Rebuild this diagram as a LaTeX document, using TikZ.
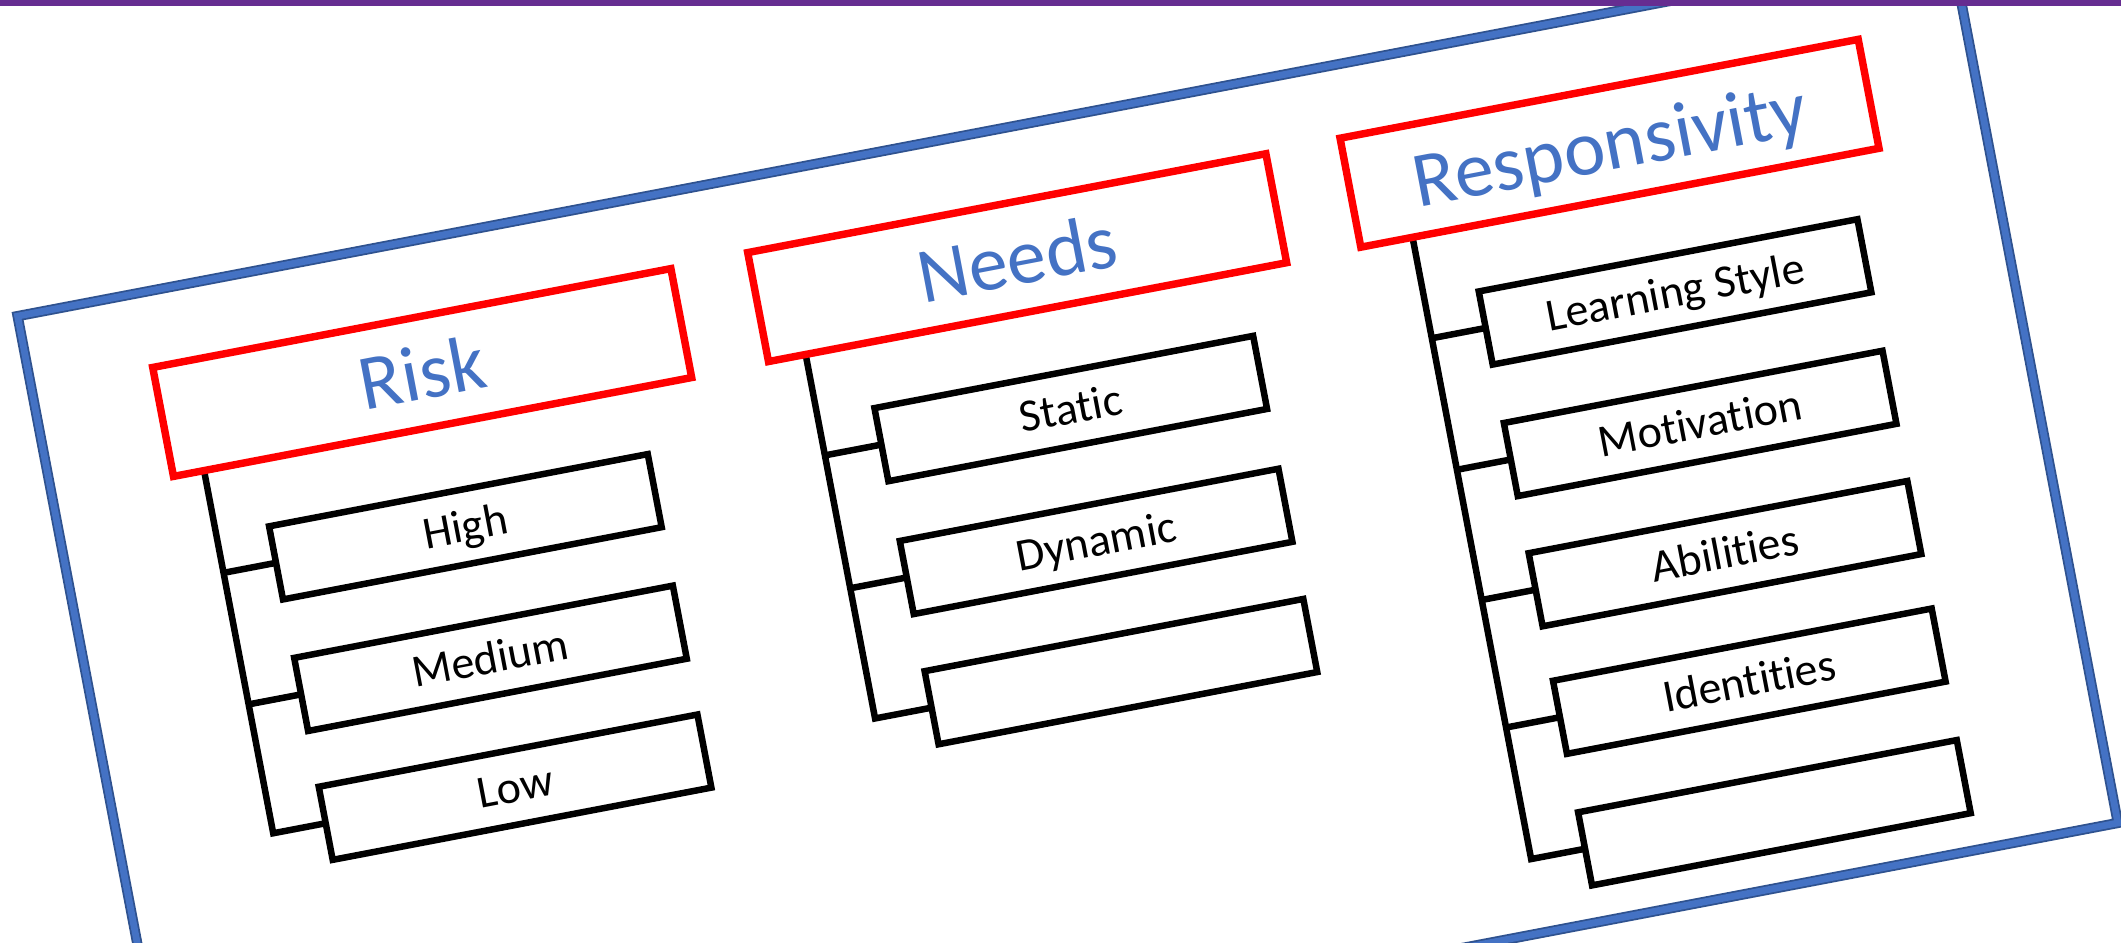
\documentclass[tikz,border=0pt]{standalone}
\usepackage{fontspec}
\setmainfont{Carlito}[Ligatures={NoCommon,NoContextual}]
\definecolor{hblue}{RGB}{68,114,196}
\definecolor{fdark}{RGB}{47,82,143}
\definecolor{topbar}{RGB}{102,45,145}
\begin{document}
\begin{tikzpicture}[x=1pt,y=-1pt,
  hdr/.style={draw=red, line width=5.5pt, fill=white, minimum width=390pt, minimum height=82pt,
    inner sep=0pt, outer sep=0pt, text=hblue, font=\fontsize{58}{60}\selectfont,
    text height=44pt, text depth=4pt},
  item/.style={draw=black, line width=4.8pt, fill=white, minimum width=285pt, minimum height=55pt,
    inner sep=0pt, outer sep=0pt, font=\fontsize{34}{40}\selectfont,
    text height=24pt, text depth=2pt},
  link/.style={draw=black, line width=4.8pt, line join=miter},
  frameouter/.style={draw=fdark, line width=7.6pt},
  frameinner/.style={draw=hblue, line width=5pt}]
\useasboundingbox (0,0) rectangle (1568,696.4);
\clip (0,0) rectangle (1568,696.4);
\fill[white] (0,0) rectangle (1568,696.4);
\begin{scope}[rotate=10.8, transform shape]
  % frame
  \draw[frameouter] (-31,232) rectangle (1424,891);
  \draw[frameinner] (-31,232) rectangle (1424,891);
  % trunk coordinates
  \coordinate (rT) at (83,370);  \coordinate (rB) at (83,643);
  \coordinate (r1) at (83,447);  \coordinate (r2) at (83,546);
  \coordinate (nT) at (536,369); \coordinate (nB) at (536,643);
  \coordinate (n1) at (536,445); \coordinate (n2) at (536,545);
  \coordinate (sT) at (993,368); \coordinate (sB) at (993,836);
  \coordinate (s1) at (993,444); \coordinate (s2) at (993,543);
  \coordinate (s3) at (993,641); \coordinate (s4) at (993,737);
  % child boxes
  \node[item] (high) at (265,447) {High};
  \node[item] (med)  at (265,546) {Medium};
  \node[item] (low)  at (265,643) {Low};
  \node[item] (stat) at (721,445) {Static};
  \node[item] (dyn)  at (721,545) {Dynamic};
  \node[item] (nemp) at (721,643) {};
  \node[item] (ls)   at (1176,444) {Learning Style};
  \node[item] (mot)  at (1176,543) {Motivation};
  \node[item] (abil) at (1176,641) {Abilities};
  \node[item] (iden) at (1176,737) {Identities};
  \node[item] (semp) at (1176,836) {};
  % connectors
  \draw[link] (rT) -- (rB) -- (low.west);
  \draw[link] (r1) -- (high.west);
  \draw[link] (r2) -- (med.west);
  \draw[link] (nT) -- (nB) -- (nemp.west);
  \draw[link] (n1) -- (stat.west);
  \draw[link] (n2) -- (dyn.west);
  \draw[link] (sT) -- (sB) -- (semp.west);
  \draw[link] (s1) -- (ls.west);
  \draw[link] (s2) -- (mot.west);
  \draw[link] (s3) -- (abil.west);
  \draw[link] (s4) -- (iden.west);
  % headers
  \node[hdr] (risk)  at (255,329)  {Risk};
  \node[hdr] (needs) at (703,328)  {Needs};
  \node[hdr] (resp)  at (1149,327) {Responsivity};
\end{scope}
\fill[topbar] (0,0) rectangle (1568,4.2);
\end{tikzpicture}
\end{document}
